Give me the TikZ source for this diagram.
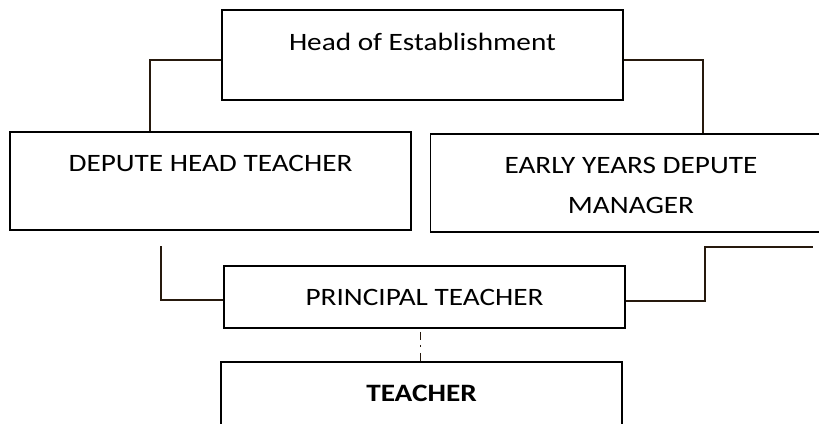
\documentclass[tikz,border=0pt]{standalone}
\usepackage{fontspec}
\setmainfont[FakeStretch=1.17]{Carlito}
\begin{document}
\begin{tikzpicture}[x=1pt,y=-1pt,
  box/.style={draw=black,line width=1.8pt,rectangle,minimum width=401pt,inner sep=0pt},
  conn/.style={draw=black!80!brown,line width=2.3pt},
  lbl/.style={inner sep=0pt,font=\fontsize{25}{30}\selectfont},
  lblb/.style={lbl,font=\fontsize{25}{30}\selectfont\bfseries}]
\useasboundingbox (0,0) rectangle (819,423);
\clip (0,0) rectangle (819,423);
\fill[white] (0,0) rectangle (819,423);

% boxes
\node[box,minimum height=90pt] (head) at (422.5,55) {};
\node[box,minimum height=98pt] (depute) at (210.5,181) {};
\node[box,minimum height=98pt] (early) at (631,183) {};
\node[box,minimum height=62pt] (principal) at (424.5,297) {};
\node[box,minimum height=98pt] (teacher) at (421.5,411) {};

% labels
\node[lbl,anchor=base] (headtxt) at (head.center |- 0,50) {Head of Establishment};
\node[lbl,anchor=base] (deputetxt) at (depute.center |- 0,171.5) {DEPUTE HEAD TEACHER};
\node[lbl,anchor=base] (earlytxta) at (early.center |- 0,173) {EARLY YEARS DEPUTE};
\node[lbl,anchor=base] (earlytxtb) at (early.center |- 0,213) {MANAGER};
\node[lbl,anchor=base] (principaltxt) at (principal.center |- 0,305) {PRINCIPAL TEACHER};
\node[lblb,anchor=base] (teachertxt) at (teacher.center |- 0,401) {TEACHER};

% connectors
\coordinate (pl) at (161,246);
\coordinate (pr) at (813,247);
\draw[conn] (head.west |- 0,60) -| (150,0 |- depute.north);
\draw[conn] (head.east |- 0,60) -| (703,0 |- early.north);
\draw[conn] (pl) |- (principal.west |- 0,300);
\draw[conn] (principal.east |- 0,301) -| (705,0 |- pr) -- (pr);
\draw[black!80!brown,line width=1.6pt,dash pattern=on 0pt off 3pt on 8pt off 5pt on 2pt off 6pt on 12pt off 2pt]
  (principal.south -| 420.5,0) -- (teacher.north -| 420.5,0);
\end{tikzpicture}
\end{document}
